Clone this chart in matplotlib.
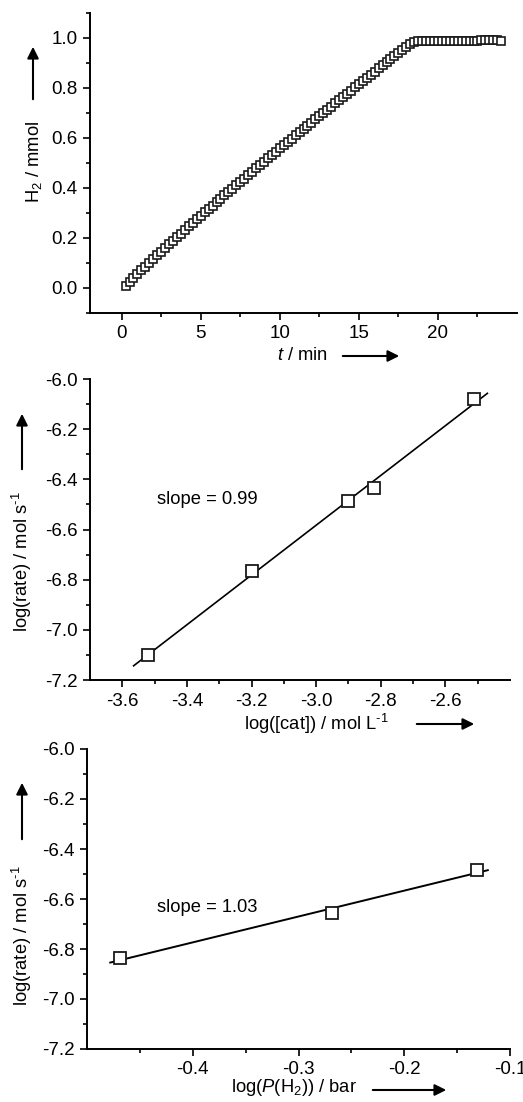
import numpy as np
import matplotlib
matplotlib.use('Agg')
import matplotlib.pyplot as plt
from matplotlib.ticker import MultipleLocator, FormatStrFormatter

plt.rcParams['font.family'] = ['Liberation Sans', 'DejaVu Sans']
plt.rcParams['mathtext.fontset'] = 'custom'
plt.rcParams['mathtext.rm'] = 'Liberation Sans'
plt.rcParams['mathtext.it'] = 'Liberation Sans:italic'
plt.rcParams['axes.unicode_minus'] = False
plt.rcParams['font.size'] = 13.2

# H2 evolution vs time (sampled every 0.25 min)
t_min = np.arange(1, 97) * 0.25
h2_mmol = [
    0.010, 0.026, 0.041, 0.056, 0.071, 0.086, 0.101, 0.116, 0.131, 0.146,
    0.160, 0.175, 0.190, 0.204, 0.218, 0.233, 0.247, 0.262, 0.276, 0.290,
    0.303, 0.317, 0.330, 0.344, 0.357, 0.371, 0.384, 0.398, 0.411, 0.425,
    0.438, 0.452, 0.465, 0.479, 0.492, 0.506, 0.519, 0.533, 0.546, 0.560,
    0.573, 0.586, 0.598, 0.611, 0.624, 0.637, 0.650, 0.662, 0.675, 0.688,
    0.701, 0.714, 0.726, 0.739, 0.752, 0.765, 0.778, 0.790, 0.803, 0.816,
    0.828, 0.841, 0.854, 0.866, 0.879, 0.891, 0.904, 0.916, 0.929, 0.941,
    0.954, 0.966, 0.978, 0.985, 0.988, 0.989, 0.989, 0.989, 0.989, 0.989,
    0.989, 0.989, 0.989, 0.989, 0.989, 0.989, 0.990, 0.990, 0.990, 0.990,
    0.991, 0.991, 0.991, 0.991, 0.991, 0.990,
]

# rate vs catalyst concentration
log_cat = [-3.52, -3.20, -2.90, -2.82, -2.51]
log_rate_cat = [-7.10, -6.765, -6.485, -6.435, -6.08]

# rate vs H2 pressure
log_ph2 = [-0.469, -0.2686, -0.1314]
log_rate_ph2 = [-6.837, -6.657, -6.484]

W, H = 523, 1102
fig = plt.figure(figsize=(W / 100, H / 100), dpi=100)


def px(x, y):
    return x / W, 1 - y / H


def make_axes(l, t, r, b):
    ax = fig.add_axes([l / W, 1 - b / H, (r - l) / W, (b - t) / H])
    for s in ['top', 'right']:
        ax.spines[s].set_visible(False)
    for s in ['left', 'bottom']:
        ax.spines[s].set_linewidth(1.4)
    ax.tick_params(which='major', direction='out', length=5, width=1.2, pad=4,
                   labelsize=13.5)
    ax.tick_params(which='minor', direction='out', length=3, width=1.2)
    return ax


def arrow(x0, y0, x1, y1):
    fig.add_artist(matplotlib.patches.FancyArrowPatch(
        px(x0, y0), px(x1, y1), transform=fig.transFigure,
        arrowstyle='-|>', mutation_scale=17, lw=1.5, color='k'))


# top panel
ax1 = make_axes(90, 13, 517, 313)
ax1.plot(t_min, h2_mmol, 's', mfc='white', mec='#1a1a1a', ms=5.5, mew=1.2)
ax1.set_xlim(-2, 25)
ax1.set_ylim(-0.1, 1.1)
ax1.set_xticks([0, 5, 10, 15, 20])
ax1.set_xticks([2.5, 7.5, 12.5, 17.5, 22.5], minor=True)
ax1.yaxis.set_major_locator(MultipleLocator(0.2))
ax1.yaxis.set_minor_locator(MultipleLocator(0.1))
ax1.yaxis.set_major_formatter(FormatStrFormatter('%.1f'))
fig.text(*px(34, 162), 'H$_2$ / mmol', rotation=90, ha='center', va='center')
arrow(33, 102, 33, 44)
fig.text(*px(302, 356), '$t$ / min', ha='center', va='center')
arrow(340, 356, 402, 356)

# middle panel
ax2 = make_axes(90, 379, 510, 680)
k2 = np.polyfit(log_cat, log_rate_cat, 1)
xl2 = np.array([-3.565, -2.47])
ax2.plot(xl2, np.polyval(k2, xl2), '-', color='k', lw=1.2)
ax2.plot(log_cat, log_rate_cat, 's', mfc='white', mec='#1a1a1a', ms=8, mew=1.3)
ax2.set_xlim(-3.7, -2.4)
ax2.set_ylim(-7.2, -6.0)
ax2.set_xticks([-3.6, -3.4, -3.2, -3.0, -2.8, -2.6])
ax2.set_xticks([-3.5, -3.3, -3.1, -2.9, -2.7, -2.5], minor=True)
ax2.yaxis.set_major_locator(MultipleLocator(0.2))
ax2.yaxis.set_minor_locator(MultipleLocator(0.1))
ax2.xaxis.set_major_formatter(FormatStrFormatter('%.1f'))
ax2.yaxis.set_major_formatter(FormatStrFormatter('%.1f'))
ax2.text(0.16, 0.60, 'slope = 0.99', transform=ax2.transAxes, va='center')
fig.text(*px(22, 562), r'log(rate) / mol s$^{\text{-}1}$', rotation=90,
         ha='center', va='center')
arrow(22, 472, 22, 411)
fig.text(*px(316, 724), r'log([cat]) / mol L$^{\text{-}1}$', ha='center', va='center')
arrow(414, 724, 477, 724)

# bottom panel
ax3 = make_axes(87, 749, 510, 1049)
k3 = np.polyfit(log_ph2, log_rate_ph2, 1)
xl3 = np.array([-0.478, -0.121])
ax3.plot(xl3, np.polyval(k3, xl3), '-', color='k', lw=1.4)
ax3.plot(log_ph2, log_rate_ph2, 's', mfc='white', mec='#1a1a1a', ms=8, mew=1.3)
ax3.set_xlim(-0.5, -0.1)
ax3.set_ylim(-7.2, -6.0)
ax3.set_xticks([-0.4, -0.3, -0.2, -0.1])
ax3.set_xticks([-0.45, -0.35, -0.25, -0.15], minor=True)
ax3.yaxis.set_major_locator(MultipleLocator(0.2))
ax3.yaxis.set_minor_locator(MultipleLocator(0.1))
ax3.xaxis.set_major_formatter(FormatStrFormatter('%.1f'))
ax3.yaxis.set_major_formatter(FormatStrFormatter('%.1f'))
ax3.text(0.166, 0.47, 'slope = 1.03', transform=ax3.transAxes, va='center')
fig.text(*px(22, 936), r'log(rate) / mol s$^{\text{-}1}$', rotation=90,
         ha='center', va='center')
arrow(22, 842, 22, 780)
fig.text(*px(294, 1088), 'log($P$(H$_2$)) / bar', ha='center', va='center')
arrow(370, 1090, 449, 1090)

fig.savefig('out.png', dpi=100)
